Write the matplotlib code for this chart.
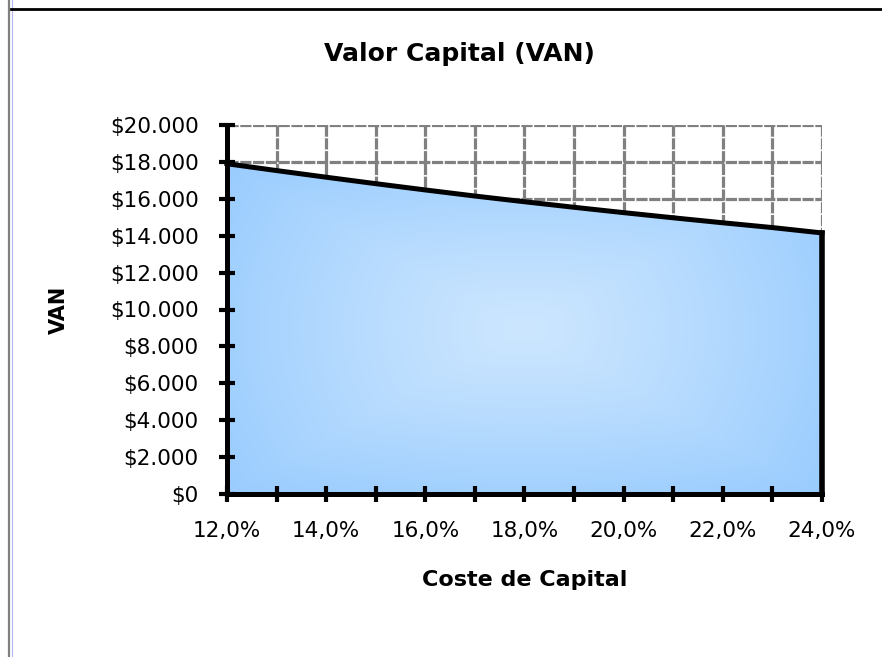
import numpy as np
import matplotlib
matplotlib.use('Agg')
import matplotlib.pyplot as plt
from matplotlib.lines import Line2D
from matplotlib.patches import Polygon


# coste de capital (%) y VAN
coste = [12, 13, 14, 15, 16, 17, 18, 19, 20, 21, 22, 23, 24]
van = [17900, 17530, 17170, 16820, 16480, 16150, 15840, 15540, 15250, 14970, 14700, 14440, 14150]
yticks = [0, 2000, 4000, 6000, 8000, 10000, 12000, 14000, 16000, 18000, 20000]
xlabels = ['12,0%', '', '14,0%', '', '16,0%', '', '18,0%', '', '20,0%', '', '22,0%', '', '24,0%']

plt.rcParams['font.family'] = 'DejaVu Sans'

fig = plt.figure(figsize=(8.82, 6.57), dpi=100)
ax = fig.add_axes([227/882, 1-494/657, 595/882, 369/657])
ax.set_xlim(coste[0], coste[-1])
ax.set_ylim(yticks[0], yticks[-1])

###grid (dashed, behind the area)###
grid_style = dict(color='#808080', lw=2.3, linestyle=(0, (3.5, 0.5)), zorder=0.5)
ax.vlines(coste, yticks[0], yticks[-1], **grid_style)
ax.hlines(yticks, coste[0], coste[-1], **grid_style)

###area with gradient from center###
verts = [(coste[0], 0)] + list(zip(coste, van)) + [(coste[-1], 0)]
poly = Polygon(verts, closed=True, facecolor='none', edgecolor='none')
ax.add_patch(poly)

nx, ny = 300, 300
u = np.linspace(-1, 1, nx)
v = np.linspace(-1, 1, ny)
U, V = np.meshgrid(u, v)
t = 0.5 * np.maximum(np.abs(U), np.abs(V)) + 0.5 * np.sqrt((U**2 + V**2) / 2)
t = np.clip(t, 0, 1) ** 1.2
edge = np.array([153, 204, 255]) / 255
center = np.array([204, 230, 254]) / 255
img = center[None, None, :] * (1 - t[..., None]) + edge[None, None, :] * t[..., None]
im = ax.imshow(img, extent=[coste[0], coste[-1], 0, max(van)], origin='lower',
               aspect='auto', zorder=1, interpolation='bilinear')
im.set_clip_path(poly)

# border of the area
ax.plot(coste, van, color='black', lw=3.6, zorder=3, solid_capstyle='projecting', clip_on=False)
ax.plot([coste[-1], coste[-1]], [0, van[-1]], color='black', lw=4.0, zorder=3,
        solid_capstyle='projecting', clip_on=False)

###axes###
for s in ['top', 'right']:
    ax.spines[s].set_visible(False)
for s in ['left', 'bottom']:
    ax.spines[s].set_linewidth(3.6)
    ax.spines[s].set_zorder(4)

ax.set_xticks(coste)
ax.set_xticklabels(xlabels)
ax.set_yticks(yticks)
ax.set_yticklabels(['$' + f'{y:,}'.replace(',', '.') for y in yticks])
ax.tick_params(direction='inout', length=11, width=3, labelsize=15.5, colors='black')
ax.tick_params(axis='y', pad=15)
ax.tick_params(axis='x', pad=14)
for tk in ax.xaxis.get_major_ticks() + ax.yaxis.get_major_ticks():
    tk.tick1line.set_zorder(5)

ax.set_title('Valor Capital (VAN)', fontsize=18, fontweight='bold', x=0.39, y=1.173, pad=0)
ax.set_xlabel('Coste de Capital', fontsize=16, fontweight='bold')
ax.set_ylabel('VAN', fontsize=15, fontweight='bold')
ax.xaxis.set_label_coords(0.5, -0.206)
ax.yaxis.set_label_coords(-0.2655, 0.5)

###frame bits from the sheet###
fig.add_artist(Line2D([9/882, 9/882], [0, 1], color='#808080', lw=1.6, transform=fig.transFigure))
fig.add_artist(Line2D([11.5/882, 11.5/882], [0, 1], color='#b4b4ee', lw=0.8, transform=fig.transFigure))
fig.add_artist(Line2D([11/882, 1], [1-8.5/657, 1-8.5/657], color='black', lw=2.0, transform=fig.transFigure))

plt.savefig('out.png', dpi=100)
